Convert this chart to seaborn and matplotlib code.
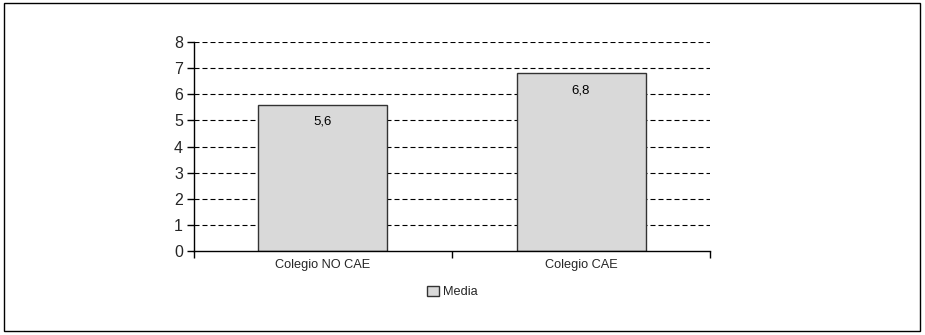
import matplotlib
matplotlib.use("Agg")
import matplotlib.pyplot as plt
from matplotlib.patches import Rectangle
import seaborn as sns
import pandas as pd

categories = ["Colegio NO CAE", "Colegio CAE"]
media = [5.6, 6.8]
series_name = "Media"
yticks = [0, 1, 2, 3, 4, 5, 6, 7, 8]

sns.set_theme(style="white")
plt.rcParams["font.family"] = ["Liberation Sans", "DejaVu Sans"]

df = pd.DataFrame({"categoria": categories, "valor": media})

fig = plt.figure(figsize=(9.25, 3.35), dpi=100)
ax = fig.add_axes([0.2097, 0.2507, 0.5579, 0.6239])

sns.barplot(data=df, x="categoria", y="valor", ax=ax, width=0.5,
            color="#d9d9d9", edgecolor="#333333", linewidth=1.0,
            saturation=1, label=series_name, zorder=3)
if ax.get_legend() is not None:
    ax.get_legend().remove()

# dashed horizontal grid
for v in yticks[1:]:
    ax.axhline(v, color="black", linestyle=(0, (4.5, 2.7)), linewidth=0.8, zorder=1)

ax.set_ylim(0, 8)
ax.set_xlim(-0.5, 1.5)
ax.set_yticks(yticks)
ax.set_yticklabels([str(t) for t in yticks], fontsize=11.5)
ax.set_xticks([0, 1])
ax.set_xticklabels(categories, fontsize=9.2)
ax.set_xticks([-0.5, 0.5, 1.5], minor=True)
ax.tick_params(axis="x", which="major", length=0, pad=6)
ax.tick_params(axis="x", which="minor", length=5, width=1, color="black",
               direction="out", bottom=True)
ax.tick_params(axis="y", length=5, width=1, color="black", direction="out",
               left=True, pad=3)
ax.set_xlabel("")
ax.set_ylabel("")

for side in ["top", "right"]:
    ax.spines[side].set_visible(False)
for side in ["left", "bottom"]:
    ax.spines[side].set_color("black")
    ax.spines[side].set_linewidth(1.0)
    ax.spines[side].set_zorder(4)

# value labels inside the bars, near the top
for i, v in enumerate(media):
    ax.annotate(f"{v:.1f}".replace(".", ","), xy=(i, v), xytext=(0, -12),
                textcoords="offset points", ha="center", va="center",
                fontsize=9.5, color="black", zorder=5)

handles, labels = ax.get_legend_handles_labels()
leg = fig.legend(handles[:1], labels[:1], loc="center", bbox_to_anchor=(0.489, 0.128),
                 frameon=False, fontsize=9.2, handlelength=0.9, handleheight=0.9,
                 handletextpad=0.3)

# outer frame of the figure
fig.patches.append(Rectangle((0.004, 0.012), 0.991, 0.978, transform=fig.transFigure,
                             fill=False, edgecolor="black", linewidth=1.0))

fig.savefig("out.png", dpi=100)
